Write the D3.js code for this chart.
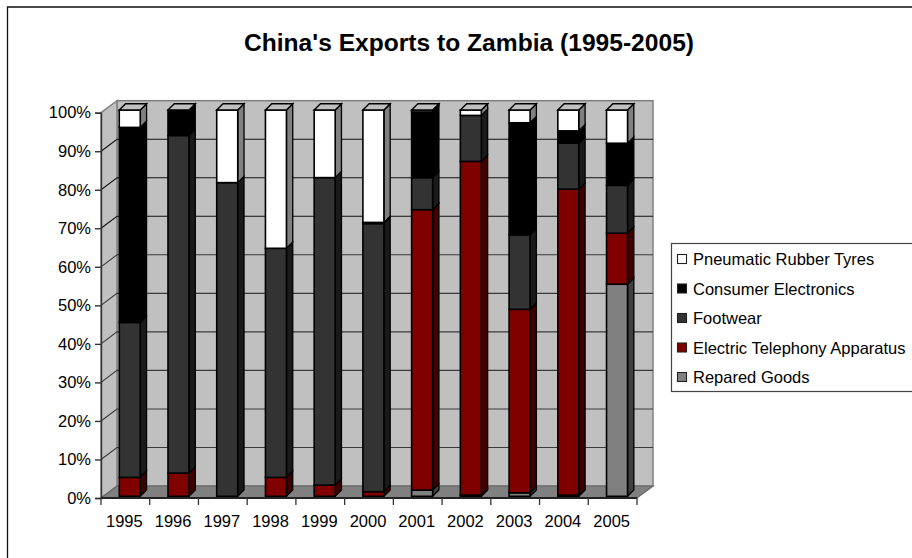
<!DOCTYPE html>
<html>
<head>
<meta charset="utf-8">
<script src="https://cdnjs.cloudflare.com/ajax/libs/d3/7.8.5/d3.min.js"></script>
<style>
html,body{margin:0;padding:0;background:#fff;}
svg{display:block;}
text{font-family:"Liberation Sans",Arial,sans-serif;fill:#000;}
</style>
</head>
<body>
<script>
const categories = ["1995","1996","1997","1998","1999","2000","2001","2002","2003","2004","2005"];
const seriesNames = ["Repared Goods","Electric Telephony Apparatus","Footwear","Consumer Electronics","Pneumatic Rubber Tyres"];
const repared   = [0,   0,   0,   0,   0,   0,   1.6, 0.3, 0.9, 0.3, 54.9];
const telephony = [4.9, 6.0, 0,   4.9, 2.9, 1.2, 72.6,86.4,47.5,79.2,13.2];
const footwear  = [40.1,87.4,81.2,59.3,79.6,69.4,8.3, 11.9,19.3,11.9,12.4];
const consumer  = [50.5,6.6, 0,   0,   0,   0.3, 17.0,0,   29.0,3.2, 10.9];
const tyres     = [4.5, 0,   18.8,35.8,17.5,29.1,0.5, 1.4, 3.3, 5.4, 8.6];
const seriesValues = [repared, telephony, footwear, consumer, tyres];
const frontFill = ["#808080","#800000","#333333","#000000","#ffffff"];
const sideFill  = ["#404040","#400000","#1a1a1a","#000000","#808080"];
const legendOrder = [4,3,2,1,0];
const yTicks = [0,10,20,30,40,50,60,70,80,90,100];

const W = 912, H = 558;
const svg = d3.select("body").append("svg").attr("width",W).attr("height",H);

// frame
svg.append("path").attr("d",`M7.5 ${H}V7H${W}`).attr("fill","none").attr("stroke","#111").attr("stroke-width",1.3);

svg.append("text").attr("x",469).attr("y",51).attr("text-anchor","middle")
  .style("font-size","24.6px").style("font-weight","bold").text("China's Exports to Zambia (1995-2005)");

const x = d3.scaleBand().domain(categories).range([101,637]);
const y = d3.scaleLinear().domain([0,100]).range([498,112.7]);
const wallY = d3.scaleLinear().domain([0,100]).range([486,100.7]);
const barY = d3.scaleLinear().domain([0,100]).range([496.3,110]);
const depthX = 16, depthY = -12;
const wx0 = x.range()[0]+depthX, wx1 = x.range()[1]+depthX;

// walls and floor
svg.append("rect").attr("x",wx0).attr("y",wallY(100)).attr("width",wx1-wx0).attr("height",wallY(0)-wallY(100))
  .attr("fill","#c0c0c0").attr("stroke","#808080").attr("stroke-width",1.5);
svg.append("path").attr("d",`M${x.range()[0]} ${y(100)}L${wx0} ${wallY(100)}V${wallY(0)}L${x.range()[0]} ${y(0)}Z`)
  .attr("fill","#c0c0c0").attr("stroke","#808080").attr("stroke-width",1.5);
svg.append("path").attr("d",`M${x.range()[0]} ${y(0)}L${wx0} ${wallY(0)}H${wx1}L${x.range()[1]} ${y(0)}Z`)
  .attr("fill","#808080").attr("stroke","#666").attr("stroke-width",1.2);

// gridlines
yTicks.filter(t=>t>0&&t<100).forEach(t=>{
  svg.append("path").attr("d",`M${x.range()[0]} ${y(t)}L${wx0} ${wallY(t)}H${wx1}`)
    .attr("fill","none").attr("stroke",t>=70?"#111":"#3a3a3a").attr("stroke-width",1.1);
});

// bars
const barW = 21, dx = 6.3, dy = -6.3;
const barLeft = c => x(c)+x.bandwidth()/2 - barW/2 + 4.4;
categories.forEach((c,i)=>{
  let cum = 0;
  const g = svg.append("g");
  seriesValues.forEach((vals,s)=>{
    const v = vals[i];
    const y0 = barY(cum), y1 = barY(cum+v);
    cum += v;
    if(v<=0) return;
    const l = barLeft(c), r = l+barW;
    g.append("path").attr("d",`M${r} ${y0}L${r+dx} ${y0+dy}V${y1+dy}L${r} ${y1}Z`)
      .attr("fill",sideFill[s]).attr("stroke","#000").attr("stroke-width",1.3);
    g.append("rect").attr("x",l).attr("y",y1).attr("width",barW).attr("height",y0-y1)
      .attr("fill",frontFill[s]).attr("stroke","#000").attr("stroke-width",1.6);
  });
  const l = barLeft(c), r = l+barW, t = barY(100);
  g.append("path").attr("d",`M${l} ${t}L${l+dx} ${t+dy}H${r+dx}L${r} ${t}Z`)
    .attr("fill","#c0c0c0").attr("stroke","#000").attr("stroke-width",1.4);
});

// axes
const yAxis = d3.axisLeft(y).tickValues(yTicks).tickSize(6).tickPadding(4).tickFormat(d=>d+"%");
const ya = svg.append("g").attr("transform",`translate(${x.range()[0]},0)`).call(yAxis);
ya.selectAll("text").style("font-size","16.5px");
ya.selectAll("line,path").attr("stroke","#333").attr("stroke-width",1.4);

const xAxis = d3.axisBottom(x).tickSize(7);
const xa = svg.append("g").attr("transform",`translate(0,${y(0)})`).call(xAxis);
xa.selectAll(".tick line").attr("transform",`translate(${-x.bandwidth()/2},0)`);
xa.append("line").attr("x1",x.range()[1]).attr("x2",x.range()[1]).attr("y1",0).attr("y2",7);
xa.selectAll("line").attr("stroke","#333").attr("stroke-width",1.3);
xa.select(".domain").attr("d",`M${x.range()[0]} 0H${x.range()[1]}`).attr("stroke","#222").attr("stroke-width",2);
xa.selectAll(".tick text").style("font-size","16.5px").attr("dy",null).attr("y",28.5).attr("dx",-1);

// legend
const lg = svg.append("g");
lg.append("rect").attr("x",671.5).attr("y",243.5).attr("width",260).attr("height",148)
  .attr("fill","#fff").attr("stroke","#444").attr("stroke-width",1.2);
const legendY = d3.scalePoint().domain(legendOrder).range([259,377]);
legendOrder.forEach(s=>{
  const ly = legendY(s);
  lg.append("rect").attr("x",677.5).attr("y",ly-4.5).attr("width",9).attr("height",9)
    .attr("fill",frontFill[s]).attr("stroke","#222").attr("stroke-width",1.1);
  lg.append("text").attr("x",693).attr("y",ly+6).style("font-size","16.5px").text(seriesNames[s]);
});
</script>
</body>
</html>
